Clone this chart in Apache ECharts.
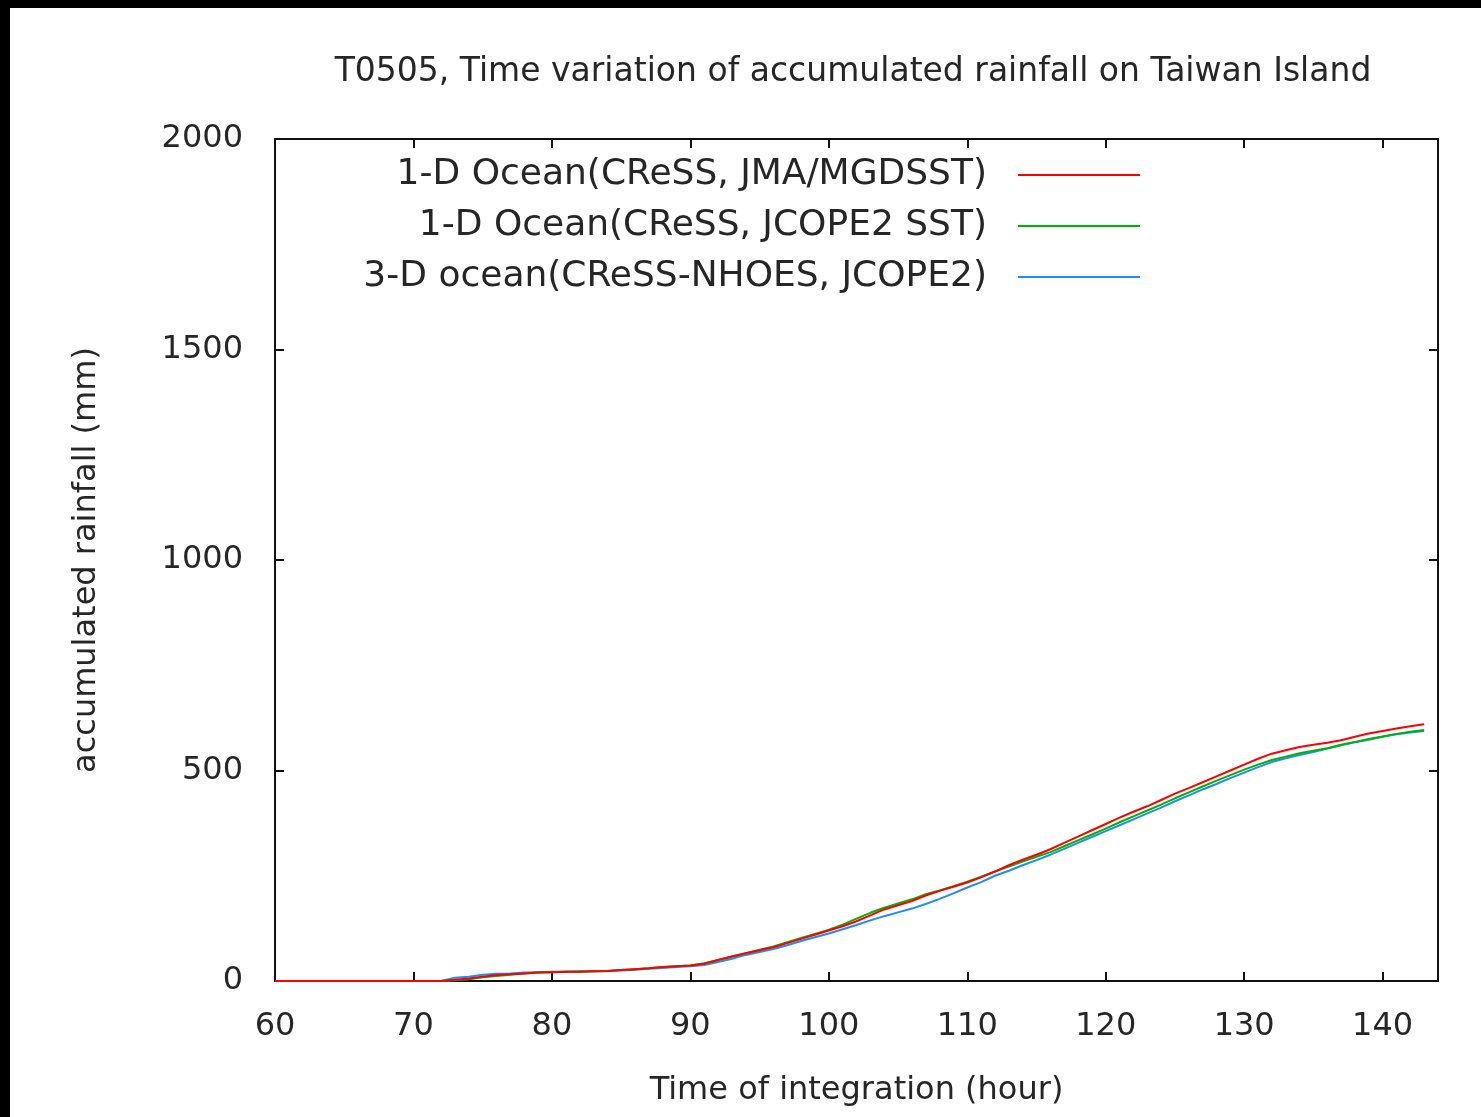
<!DOCTYPE html>
<html>
<head>
<meta charset="utf-8">
<title>T0505 accumulated rainfall</title>
<script src="https://cdn.jsdelivr.net/npm/echarts@6/dist/echarts.min.js"></script>
<style>
  html, body { margin: 0; padding: 0; background: #fff; }
  #chart { width: 1481px; height: 1117px; }
</style>
</head>
<body>
<div id="chart"></div>
<script>
// Integration time (hour)
const hours = [];
for (let h = 60; h <= 143; h++) hours.push(h);

// Accumulated rainfall (mm), hourly from 60 h to 143 h
const jmaMgdsst = [
  0, 0, 0, 0, 0, 0, 0, 0, 0, 0, 0, 0, 0,
  3, 6, 10, 14, 16, 18, 20, 21, 22, 22, 23, 24, 26, 28, 30, 33, 35, 37,
  41, 50, 58, 66, 73, 80, 90, 100, 110, 120, 130, 142, 156, 170, 180, 190, 203, 214, 224, 234,
  246, 260, 275, 288, 300, 313, 328, 343, 358, 373, 388, 402, 415, 430, 445, 458, 472, 486, 500, 514,
  528, 540, 548, 556, 561, 566, 572, 580, 588, 594, 600, 605, 610
];
const jcope2Sst = [
  0, 0, 0, 0, 0, 0, 0, 0, 0, 0, 0, 0, 0,
  2, 4, 9, 12, 15, 18, 20, 21, 22, 22, 23, 24, 26, 28, 30, 33, 35, 37,
  42, 50, 58, 66, 74, 82, 92, 102, 112, 122, 134, 148, 162, 174, 184, 194, 206, 215, 225, 236,
  248, 260, 272, 284, 295, 306, 320, 334, 348, 362, 377, 391, 405, 419, 434, 448, 462, 476, 489, 502,
  514, 525, 533, 541, 547, 553, 561, 568, 575, 581, 587, 592, 596
];
const nhoesJcope2 = [
  0, 0, 0, 0, 0, 0, 0, 0, 0, 0, 0, 0, 0,
  8, 10, 15, 17, 18, 20, 21, 22, 22, 23, 23, 24, 25, 27, 29, 31, 33, 35,
  38, 45, 53, 62, 69, 76, 85, 95, 104, 113, 123, 133, 144, 154, 163, 172, 183, 195, 208, 222,
  235, 250, 262, 275, 287, 300, 314, 328, 342, 356, 370, 384, 398, 412, 427, 441, 455, 468, 482, 495,
  508, 520, 529, 537, 544, 552, 560, 567, 573, 580, 586, 590, 594
];

const seriesNames = [
  '1-D Ocean(CReSS, JMA/MGDSST)',
  '1-D Ocean(CReSS, JCOPE2 SST)',
  '3-D ocean(CReSS-NHOES, JCOPE2)'
];
const seriesColors = ['#ff0000', '#00b400', '#1e8cff'];
const seriesValues = [jmaMgdsst, jcope2Sst, nhoesJcope2];

const FONT = 'DejaVu Sans';
const TXT = '#262626';
const FS = 32;

const chart = echarts.init(document.getElementById('chart'), null, { renderer: 'canvas' });

const boxAxisX = (pos, labels) => ({
  type: 'value', position: pos, min: 60, max: 144, interval: 10,
  axisLine: { show: true, onZero: false, lineStyle: { color: '#111', width: 2 } },
  axisTick: { show: true, inside: true, length: 9, lineStyle: { color: '#111', width: 2 } },
  axisLabel: { show: labels, showMaxLabel: false, margin: 30, color: TXT, fontFamily: FONT, fontSize: FS },
  splitLine: { show: false }
});
const boxAxisY = (pos, labels) => ({
  type: 'value', position: pos, min: 0, max: 2000, interval: 500,
  axisLine: { show: true, onZero: false, lineStyle: { color: '#111', width: 2 } },
  axisTick: { show: true, inside: true, length: 9, lineStyle: { color: '#111', width: 2 } },
  axisLabel: { show: labels, margin: 32, color: TXT, fontFamily: FONT, fontSize: FS,
    formatter: v => String(v) },
  splitLine: { show: false }
});

const legendTops = [152, 203, 254];

chart.setOption({
  backgroundColor: '#ffffff',
  animation: false,
  title: {
    text: 'T0505, Time variation of accumulated rainfall on Taiwan Island',
    left: 848, top: 51, textAlign: 'center',
    textStyle: { color: TXT, fontFamily: FONT, fontSize: 33, fontWeight: 'normal' }
  },
  legend: seriesNames.map((name, i) => ({
    data: [name],
    right: 336, top: legendTops[i],
    align: 'right', orient: 'vertical',
    icon: 'rect', itemWidth: 122, itemHeight: 2,
    selectedMode: false,
    textStyle: { color: TXT, fontFamily: FONT, fontSize: 36, padding: [0, 26, 0, 0] }
  })),
  grid: { left: 275, right: 43, top: 139, bottom: 136, containLabel: false },
  xAxis: [
    Object.assign(boxAxisX('bottom', true), {
      name: 'Time of integration (hour)', nameLocation: 'middle', nameGap: 94,
      nameTextStyle: { color: TXT, fontFamily: FONT, fontSize: FS }
    }),
    boxAxisX('top', false)
  ],
  yAxis: [
    Object.assign(boxAxisY('left', true), {
      name: 'accumulated rainfall (mm)', nameLocation: 'middle', nameGap: 172,
      nameTextStyle: { color: TXT, fontFamily: FONT, fontSize: FS }
    }),
    boxAxisY('right', false)
  ],
  graphic: [
    { type: 'rect', left: 0, top: 0, shape: { width: 1481, height: 8 }, style: { fill: '#000' }, z: 100 },
    { type: 'rect', left: 0, top: 0, shape: { width: 10, height: 1117 }, style: { fill: '#000' }, z: 100 }
  ],
  series: seriesNames.map((name, i) => ({
    name, type: 'line',
    data: hours.map((h, k) => [h, seriesValues[i][k]]),
    showSymbol: false, symbol: 'none',
    color: seriesColors[i],
    lineStyle: { color: seriesColors[i], width: 2 },
    z: 3 - i
  }))
});
</script>
</body>
</html>
